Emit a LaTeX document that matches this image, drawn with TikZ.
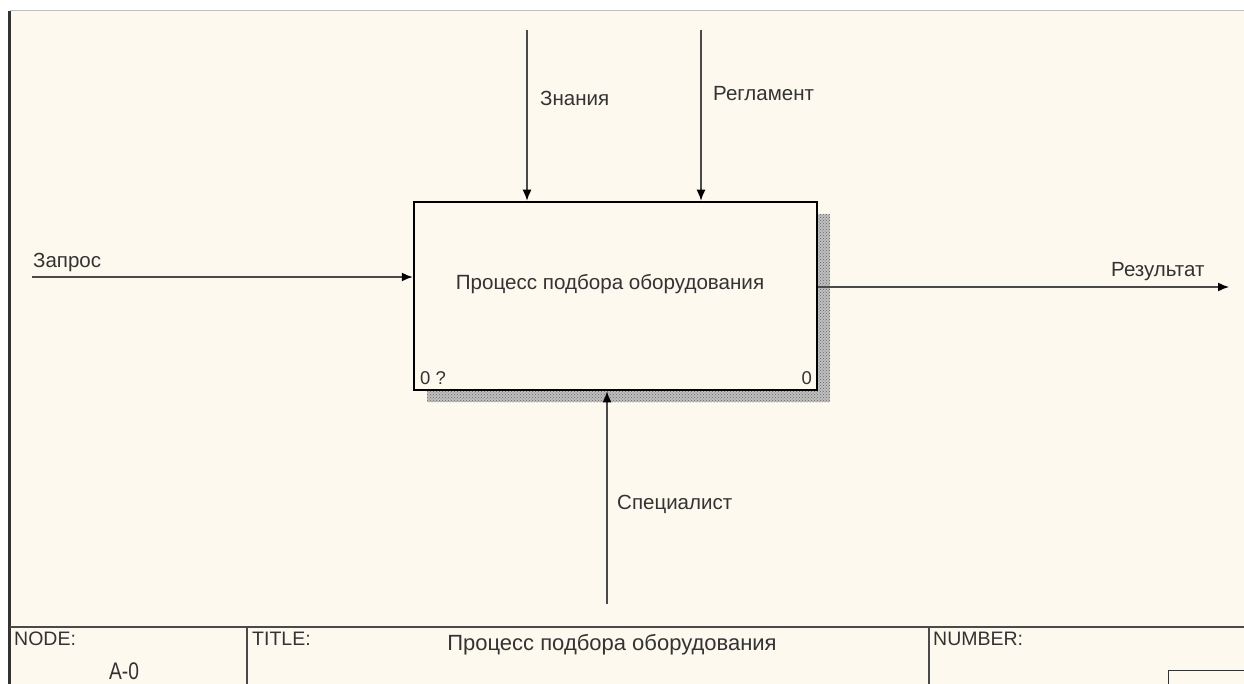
\documentclass[tikz,border=0pt]{standalone}
\usepackage{fontspec}
\setmainfont{Liberation Sans}
\usetikzlibrary{arrows.meta,patterns}
\definecolor{cream}{HTML}{FEF9EF}
\definecolor{ink}{HTML}{4A4A4A}
\definecolor{txt}{HTML}{333333}
\tikzset{
  arr/.style={draw=ink, line width=1.5pt, arrows={-{Latex[length=11pt,width=9pt,color=black]}}},
  lbl/.style={text=txt, font=\fontsize{20.5}{23}\selectfont, inner sep=0pt, anchor=west},
  ftxt/.style={text=txt, font=\fontsize{19.5}{22}\selectfont, inner sep=0pt, anchor=north west},
  procbox/.style={draw=black, line width=2.5pt, fill=cream, minimum width=403pt, minimum height=188pt, inner sep=0pt},
}
\begin{document}
\begin{tikzpicture}[x=1pt,y=-1pt]
\useasboundingbox (0,0) rectangle (1244,684);
% background
\fill[white] (0,0) rectangle (1244,684);
\fill[cream] (10,11) rectangle (1244,684);
\draw[gray!50, line width=1pt] (10,11) -- (1244,11);
\draw[black!80, line width=2.5pt] (9.5,11) -- (9.5,684);
% shadow
\fill[black!25] (427,214) rectangle (830,402);
\fill[pattern=crosshatch dots, pattern color=black!60] (427,214) rectangle (830,402);
% process box
\node[procbox] (p) at (615.5,296) {};
\node[text=txt, font=\fontsize{20.6}{23}\selectfont, inner sep=0pt] (pt) at (610,284) {Процесс подбора оборудования};
\node[lbl, font=\fontsize{18.5}{21}\selectfont] (n1) at (420,378) {0 ?};
\node[lbl, font=\fontsize{18.5}{21}\selectfont, anchor=east] (n2) at (812,378) {0};
% arrows
\coordinate (zn) at (527,30);
\coordinate (rg) at (701,30);
\coordinate (zp) at (32,277);
\coordinate (rs) at (1229,287);
\coordinate (sp) at (607,604);
\draw[arr] (zn) -- (zn |- p.north);
\draw[arr] (rg) -- (rg |- p.north);
\draw[arr] (zp) -- (zp -| p.west);
\draw[arr] (p.east |- rs) -- (rs);
\draw[arr] (sp) -- (sp |- p.south);
% labels
\node[lbl] (lzn) at (540,98) {Знания};
\node[lbl] (lrg) at (713,94) {Регламент};
\node[lbl] (lzp) at (33,262) {Запрос};
\node[lbl] (lrs) at (1111,272) {Результат};
\node[lbl] (lsp) at (617,504) {Специалист};
% footer
\draw[ink, line width=2pt] (10,627) -- (1244,627);
\draw[ink, line width=1.5pt] (247,627) -- (247,684);
\draw[ink, line width=1.5pt] (929,627) -- (929,684);
\draw[black!80, line width=1.5pt] (1168.5,684) -- (1168.5,670.5) -- (1244,670.5);
\node[ftxt] (fnode) at (14,632) {NODE:};
\node[ftxt] (ftitle) at (252,632) {TITLE:};
\node[ftxt] (fnum) at (933,632) {NUMBER:};
\node[text=txt, font=\fontsize{22}{26}\selectfont, inner sep=0pt] (fttl) at (612,645) {Процесс подбора оборудования};
\node[text=txt, font=\fontsize{24}{28}\selectfont, inner sep=0pt] (fa0) at (124,671) {\scalebox{0.8}[1]{A-0}};
\end{tikzpicture}
\end{document}
